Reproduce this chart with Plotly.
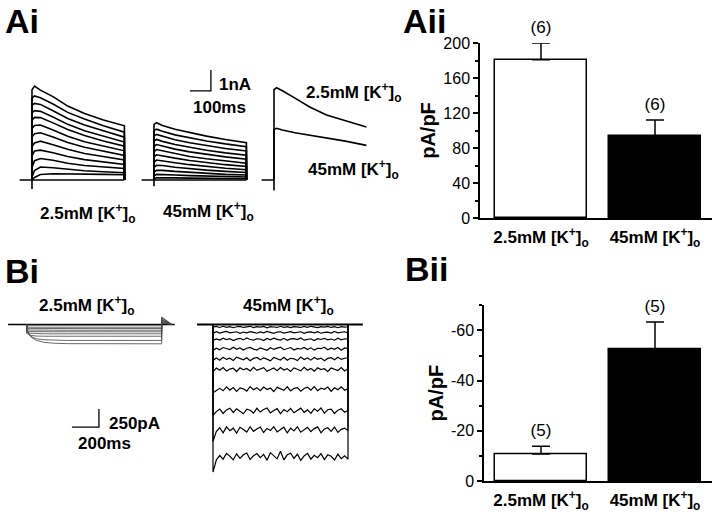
import plotly.graph_objects as go

W, H = 720, 521
FONT = 'Liberation Sans'


def px(x):
    return x / W


def py(y):
    return 1 - y / H


# ---------------- data ----------------
# Ai: outward K+ currents, nA, sampled at ai_t (ms after the step)
ai_t = [0, 12, 40, 100, 170, 250, 340, 440]
ai_low = [
    [4.30, 4.47, 4.28, 3.97, 3.52, 3.17, 2.86, 2.58],
    [3.90, 4.00, 3.92, 3.62, 3.22, 2.90, 2.58, 2.28],
    [3.55, 3.65, 3.60, 3.30, 2.93, 2.62, 2.33, 2.04],
    [3.20, 3.30, 3.27, 3.00, 2.65, 2.35, 2.08, 1.81],
    [2.85, 2.98, 2.97, 2.72, 2.40, 2.12, 1.86, 1.61],
    [2.45, 2.60, 2.62, 2.38, 2.08, 1.82, 1.60, 1.39],
    [2.05, 2.20, 2.25, 2.05, 1.79, 1.56, 1.36, 1.17],
    [1.60, 1.76, 1.85, 1.68, 1.46, 1.26, 1.10, 0.95],
    [1.15, 1.38, 1.42, 1.30, 1.12, 0.97, 0.85, 0.74],
    [0.60, 0.92, 1.02, 0.94, 0.80, 0.69, 0.61, 0.55],
    [0.15, 0.45, 0.62, 0.58, 0.50, 0.44, 0.39, 0.35],
    [0.02, 0.12, 0.26, 0.30, 0.30, 0.28, 0.27, 0.25],
]
ai_high = [
    [2.65, 2.73, 2.60, 2.42, 2.25, 2.09, 1.93, 1.78],
    [2.35, 2.42, 2.32, 2.15, 2.00, 1.86, 1.72, 1.59],
    [2.10, 2.17, 2.08, 1.92, 1.77, 1.64, 1.50, 1.38],
    [1.85, 1.93, 1.84, 1.69, 1.55, 1.42, 1.29, 1.18],
    [1.60, 1.69, 1.62, 1.47, 1.34, 1.22, 1.10, 0.99],
    [1.35, 1.45, 1.39, 1.25, 1.12, 1.01, 0.90, 0.80],
    [1.10, 1.20, 1.16, 1.04, 0.93, 0.83, 0.73, 0.64],
    [0.85, 0.95, 0.92, 0.82, 0.73, 0.64, 0.56, 0.49],
    [0.60, 0.70, 0.69, 0.61, 0.54, 0.47, 0.41, 0.36],
    [0.38, 0.46, 0.46, 0.41, 0.36, 0.31, 0.27, 0.24],
    [0.20, 0.27, 0.27, 0.24, 0.21, 0.18, 0.16, 0.14],
    [0.06, 0.10, 0.11, 0.10, 0.09, 0.08, 0.07, 0.06],
]
ai_cmp_low = [4.30, 4.39, 4.25, 3.90, 3.48, 3.10, 2.83, 2.52]
ai_cmp_high = [2.40, 2.46, 2.38, 2.25, 2.13, 2.02, 1.85, 1.65]

# Aii: peak outward current density
groups = ['2.5mM [K<sup>+</sup>]<sub>o</sub>', '45mM [K<sup>+</sup>]<sub>o</sub>']
aii_mean = [181, 94]
aii_sem = [19, 18]
aii_n = [6, 6]

# Bi: inward currents, pA
bi_t_low = [0, 30, 70, 130, 200, 300, 500, 750, 1000]
bi_low = [
    [-10, -10, -10, -10, -10, -10, -10, -10, -10],
    [-36, -38, -38, -38, -38, -38, -37, -38, -38],
    [-52, -55, -56, -56, -56, -56, -57, -56, -56],
    [-72, -77, -79, -79, -79, -80, -79, -79, -79],
    [-90, -98, -101, -101, -101, -101, -102, -101, -101],
    [-110, -122, -127, -129, -129, -129, -128, -129, -129],
    [-125, -150, -160, -163, -163, -163, -164, -163, -163],
    [-90, -165, -198, -212, -218, -221, -222, -222, -222],
    [-70, -170, -220, -248, -260, -266, -268, -268, -268],
]
bi_low_tail = [15, 25, 35, 45, 55, 65, 80, 95, 105]

bi_t_high = list(range(0, 1001, 25))
bi_high_level = [-35, -111, -206, -338, -479, -625, -897, -1200, -1464, -1840]
bi_high_dev = [
    [0, 8, -6, 10, -4, 6, -10, 4, 8, -6, 2, 10, -8, 4, -2, 8, -10, 6, 0, -6, 10,
     -4, 4, -8, 6, 2, -6, 8, -4, 10, -2, -8, 6, 0, 8, -6, 4, -10, 6, -2, 4],
    [-10, 12, -8, 4, 14, -6, 0, 10, -12, 6, -4, 12, 2, -10, 8, -6, 14, -2, -12, 6, 10,
     -8, 2, 12, -6, -2, 10, -12, 4, 8, -4, 12, -10, 2, 6, -8, 14, -4, 0, 10, -6],
    [-14, 6, -10, 16, -4, 10, -16, 2, 14, -8, 18, -2, -12, 8, 4, -16, 12, -6, 16, 0, -10,
     14, -14, 6, 10, -4, 18, -12, 2, 8, -16, 10, -2, 14, -8, 4, -12, 16, -6, 8, 2],
    [-20, 10, -14, 18, 4, -10, 22, -6, 12, -18, 8, 20, -4, -16, 14, 2, -20, 16, -8, 10, 22,
     -12, 4, 18, -16, 6, -2, 20, -10, 14, -18, 8, 2, 22, -14, 10, -6, 18, -20, 12, 4],
    [-22, 14, -18, 24, -6, 10, -20, 26, 4, -12, 18, -24, 8, 22, -10, 16, -2, -26, 20, 6, -14,
     24, -18, 10, 2, -22, 26, -8, 14, -16, 20, -4, 12, -24, 8, 18, -12, 24, -6, 10, 16],
    [-30, 20, -10, 28, -22, 6, 18, -28, 24, -4, 14, -20, 30, -12, 8, 26, -24, 2, 20, -16, 28,
     -8, 12, -26, 22, 4, -18, 30, -10, 16, -22, 24, -2, 10, -28, 20, 6, -14, 26, -20, 12],
    [-50, -20, 10, -24, 30, -14, 22, -32, 16, 4, -28, 34, -10, 20, -22, 28, -6, 14, -34, 24, 2,
     -18, 32, -26, 10, 20, -30, 8, 26, -14, 34, -22, 12, -4, 28, -30, 18, -10, 30, -16, 6],
    [-60, -10, 26, -36, 14, 38, -22, 30, -8, -40, 24, 10, -30, 36, -16, 20, 40, -28, 6, 32, -38,
     18, -12, 34, -26, 8, 38, -20, 14, -34, 28, -6, 40, -30, 16, 24, -36, 10, 30, -18, 6],
    [-160, -20, 30, -40, 42, -10, 24, -44, 36, 6, -30, 44, -20, 14, 40, -36, 20, -8, 45, -28, 10,
     38, -42, 26, -14, 44, -32, 4, 36, -24, 18, 42, -40, 12, 30, -20, 40, -34, 8, 24, -10],
    [-210, -40, 20, -30, 50, 10, -40, 44, -20, 30, 54, -34, 16, 48, -10, 36, -44, 60, 20, -26, 80,
     -40, 30, 52, -20, 40, -48, 14, 50, -30, 24, -10, 46, -36, 30, 10, -42, 40, -24, 16, -30],
]

# Bii: inward current density
bii_mean = [-10.8, -52.5]
bii_sem = [3.0, 10.8]
bii_n = [5, 5]

# scale bars
ai_bar = (100, 1)      # ms, nA
bi_bar = (200, 250)    # ms, pA

# ---------------- figure ----------------
fig = go.Figure()


def add_line(xs, ys, xa, ya, width=1.6, color='black'):
    fig.add_trace(go.Scatter(x=xs, y=ys, xaxis=xa, yaxis=ya, mode='lines',
                             line=dict(color=color, width=width),
                             hoverinfo='skip', showlegend=False))


# Ai families
for xa, fam, tick in [('x', ai_low, -0.43), ('x2', ai_high, -0.3)]:
    add_line([-60, ai_t[-1]], [0, 0], xa, 'y')
    add_line([0, 0], [tick, 0], xa, 'y')
    for v in fam:
        add_line([0] + ai_t + [ai_t[-1]], [0] + v + [0], xa, 'y')

# Ai comparison
add_line([-60, 0], [0, 0], 'x3', 'y')
add_line([0, 0], [-0.5, 0], 'x3', 'y')
for v in [ai_cmp_low, ai_cmp_high]:
    add_line([0] + ai_t, [0] + v, 'x3', 'y')

# Ai scale bar (drawn in the x2 frame)
sb_x, sb_y = 171, 4.24
add_line([sb_x, sb_x + ai_bar[0], sb_x + ai_bar[0]], [sb_y, sb_y, sb_y + ai_bar[1]], 'x2', 'y', width=1.3)


def add_bars(means, up, down, n, xa, ya, tip):
    fig.add_trace(go.Bar(
        x=[0, 1], y=means, width=0.807, xaxis=xa, yaxis=ya,
        marker=dict(color=['white', 'black'], line=dict(color='black', width=1.5)),
        error_y=dict(type='data', symmetric=False, array=up, arrayminus=down,
                     color='black', thickness=1.5, width=9),
        hoverinfo='skip', showlegend=False))
    # n labels above the error caps (invisible marker keeps a gap)
    fig.add_trace(go.Scatter(
        x=[0, 1], y=tip, xaxis=xa, yaxis=ya, mode='markers+text', text=['(%d)' % k for k in n],
        textposition='top center', cliponaxis=False,
        marker=dict(size=8, color='rgba(0,0,0,0)'),
        textfont=dict(family=FONT, size=17, color='black'),
        hoverinfo='skip', showlegend=False))


# Aii bars
add_bars(aii_mean, aii_sem, [0, 0], aii_n, 'x4', 'y4',
         [m + s for m, s in zip(aii_mean, aii_sem)])

# Bi, 2.5 mM
add_line([-138, 1097], [0, 0], 'x5', 'y5', width=1.3)
for v, tail in zip(bi_low, bi_low_tail):
    add_line([0] + bi_t_low + [1000, 1075], [0] + v + [tail, 0], 'x5', 'y5', width=0.8, color='#444')

# Bi, 45 mM
add_line([-118, 1110], [0, 0], 'x6', 'y5', width=1.8)
for lvl, dev in zip(bi_high_level, bi_high_dev):
    ys = [lvl + d for d in dev]
    add_line([0] + bi_t_high + [1000], [0] + ys + [0], 'x6', 'y5', width=1.2)

# Bi scale bar (x5 frame)
sb2_x, sb2_y = 335, -1424
add_line([sb2_x, sb2_x + bi_bar[0], sb2_x + bi_bar[0]], [sb2_y, sb2_y, sb2_y + bi_bar[1]], 'x5', 'y5', width=1.3)

# Bii bars
add_bars(bii_mean, [0, 0], bii_sem, bii_n, 'x7', 'y7',
         [m - s for m, s in zip(bii_mean, bii_sem)])

# ---------------- axes ----------------
hidden = dict(visible=False, showgrid=False, zeroline=False, fixedrange=True, automargin=False)
ms_a = 100 / 21      # ms per pixel, Ai
ms_b = 200 / 27      # ms per pixel, Bi


def trace_dom(step_px, lo, hi, scale):
    return [px(step_px + lo / scale), px(step_px + hi / scale)]


bar_y = dict(showline=True, linecolor='black', linewidth=1.5, ticks='outside', ticklen=5,
             tickwidth=1.5, tickcolor='black', showgrid=False, zeroline=False, automargin=False,
             tickfont=dict(family=FONT, size=16, color='black'),
             title=dict(text='<b>pA/pF</b>', font=dict(family=FONT, size=20, color='black'), standoff=2))
bar_x = dict(showline=True, linecolor='black', linewidth=1.5, ticks='', showgrid=False,
             zeroline=False, tickmode='array', tickvals=[0, 1], automargin=False,
             ticklabelstandoff=3,
             ticktext=['<b>%s</b>' % g for g in groups],
             tickfont=dict(family=FONT, size=17, color='black'))

fig.update_layout(
    width=W, height=H, margin=dict(l=0, r=0, t=0, b=0, pad=0, autoexpand=False),
    paper_bgcolor='white', plot_bgcolor='rgba(0,0,0,0)',
    font=dict(family=FONT, color='black'),
    bargap=0,
    xaxis=dict(hidden, domain=trace_dom(32, -60, 455, ms_a), range=[-60, 455], anchor='y'),
    xaxis2=dict(hidden, domain=trace_dom(154, -60, 455, ms_a), range=[-60, 455], anchor='y'),
    xaxis3=dict(hidden, domain=trace_dom(274, -60, 455, ms_a), range=[-60, 455], anchor='y'),
    yaxis=dict(hidden, domain=[py(200), py(60)], range=[-20 / 21, 120 / 21]),
    xaxis4=dict(bar_x, domain=[px(480), px(712)], range=[-0.535, 1.5], anchor='y4'),
    yaxis4=dict(bar_y, domain=[py(218), py(43)], range=[0, 200], dtick=40,
                minor=dict(dtick=20, ticks='outside', ticklen=3, tickwidth=1.5, tickcolor='black'),
                anchor='x4'),
    xaxis5=dict(hidden, domain=trace_dom(26.7, -150, 1150, ms_b), range=[-150, 1150], anchor='y5'),
    xaxis6=dict(hidden, domain=trace_dom(213, -150, 1150, ms_b), range=[-150, 1150], anchor='y5'),
    yaxis5=dict(hidden, domain=[py(480), py(300)], range=[-155.5 * 250 / 18, 24.5 * 250 / 18]),
    xaxis7=dict(bar_x, domain=[px(484), px(712)], range=[-0.5, 1.5], anchor='y7'),
    yaxis7=dict(bar_y, domain=[py(481), py(305.3)], range=[0, -70], tickmode='array',
                tickvals=[0, -20, -40, -60], ticktext=['0', '-20', '-40', '-60'],
                minor=dict(tickvals=[-10, -30, -50, -70], ticks='outside', ticklen=3,
                           tickwidth=1.5, tickcolor='black'),
                anchor='x7'),
)

# ---------------- text ----------------
ann = []


def label(text, x, y, size=17, bold=True, yanchor='middle'):
    t = '<b>%s</b>' % text if bold else text
    ann.append(dict(text=t, x=px(x), y=py(y), xref='paper', yref='paper', showarrow=False,
                    xanchor='left', yanchor=yanchor,
                    font=dict(family=FONT, size=size, color='black')))


label('Ai', 3, 0, size=34, yanchor='top')
label('Aii', 401, 0, size=34, yanchor='top')
label('Bi', 3, 271, size=34)
label('Bii', 403, 269, size=34)

label(groups[0], 38, 213)
label(groups[1], 161, 211)
label(groups[0], 304, 92)
label(groups[1], 306, 169)
label('1nA', 217, 85)
label('100ms', 191, 108)

label(groups[0], 37, 305)
label(groups[1], 241, 305)
label('250pA', 107, 423)
label('200ms', 76, 443)

fig.update_layout(annotations=ann)

# page body margin would shift the 720x521 figure inside the window
fig.write_html("out.html", config={'displayModeBar': False},
               post_script="document.body.style.margin='0';")
